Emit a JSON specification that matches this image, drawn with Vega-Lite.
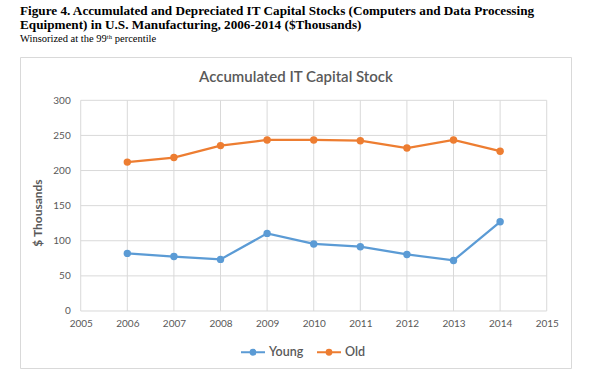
{
  "$schema": "https://vega.github.io/schema/vega-lite/v6.json",
  "width": 551,
  "height": 311,
  "autosize": {"type": "none"},
  "padding": {"left": 20, "top": 57, "right": 29, "bottom": 11},
  "background": "white",
  "title": {
    "text": ["Figure 4. Accumulated and Depreciated IT Capital Stocks (Computers and Data Processing", "Equipment) in U.S. Manufacturing, 2006-2014 ($Thousands)"],
    "subtitle": "Winsorized at the 99ᵗʰ percentile",
    "anchor": "start",
    "frame": "group",
    "font": "Liberation Serif",
    "fontSize": 13.2,
    "fontWeight": "bold",
    "color": "#000000",
    "lineHeight": 14.5,
    "subtitleFont": "Liberation Serif",
    "subtitleFontSize": 10.5,
    "subtitleColor": "#000000",
    "subtitlePadding": 1,
    "offset": 12
  },
  "config": {"view": {"stroke": "#d9d9d9", "strokeWidth": 1}},
  "datasets": {
    "series": [
      {"year": 2006, "group": "Young", "value": 82},
      {"year": 2007, "group": "Young", "value": 77.5},
      {"year": 2008, "group": "Young", "value": 73.5},
      {"year": 2009, "group": "Young", "value": 110.5},
      {"year": 2010, "group": "Young", "value": 95.5},
      {"year": 2011, "group": "Young", "value": 91.5},
      {"year": 2012, "group": "Young", "value": 80.5},
      {"year": 2013, "group": "Young", "value": 72},
      {"year": 2014, "group": "Young", "value": 127},
      {"year": 2006, "group": "Old", "value": 212},
      {"year": 2007, "group": "Old", "value": 218.5},
      {"year": 2008, "group": "Old", "value": 235.5},
      {"year": 2009, "group": "Old", "value": 243.5},
      {"year": 2010, "group": "Old", "value": 243.5},
      {"year": 2011, "group": "Old", "value": 242.5},
      {"year": 2012, "group": "Old", "value": 232},
      {"year": 2013, "group": "Old", "value": 243.5},
      {"year": 2014, "group": "Old", "value": 227.5}
    ],
    "vgrid": [
      {"year": 2005}, {"year": 2006}, {"year": 2007}, {"year": 2008}, {"year": 2009}, {"year": 2010},
      {"year": 2011}, {"year": 2012}, {"year": 2013}, {"year": 2014}, {"year": 2015}
    ],
    "hgrid": [
      {"v": 0}, {"v": 50}, {"v": 100}, {"v": 150}, {"v": 200}, {"v": 250}, {"v": 300}
    ]
  },
  "resolve": {"axis": {"x": "independent", "y": "independent"}},
  "layer": [
    {
      "data": {"name": "hgrid"},
      "mark": {"type": "rule", "color": "#d9d9d9", "strokeWidth": 1},
      "encoding": {
        "y": {
          "field": "v", "type": "quantitative",
          "scale": {"domain": [-81.16, 361.65], "nice": false, "zero": false},
          "axis": {
            "orient": "left", "offset": -60.7, "values": [0, 50, 100, 150, 200, 250, 300],
            "grid": false, "ticks": false, "tickSize": 0, "domain": false,
            "labelFont": "Lato", "labelFontSize": 10, "labelColor": "#595959", "labelPadding": 10.5,
            "title": "$ Thousands", "titleFont": "Lato", "titleFontSize": 12, "titleFontWeight": "bold",
            "titleColor": "#595959", "titlePadding": 8
          }
        },
        "x": {"datum": 2005, "type": "quantitative", "scale": {"domain": [2003.697, 2015.521], "nice": false, "zero": false}, "axis": null},
        "x2": {"datum": 2015}
      }
    },
    {
      "data": {"name": "vgrid"},
      "mark": {"type": "rule", "color": "#d9d9d9", "strokeWidth": 1},
      "encoding": {
        "x": {
          "field": "year", "type": "quantitative",
          "scale": {"domain": [2003.697, 2015.521], "nice": false, "zero": false},
          "axis": {
            "orient": "bottom", "offset": -57, "values": [2005, 2006, 2007, 2008, 2009, 2010, 2011, 2012, 2013, 2014, 2015],
            "format": "d", "grid": false, "ticks": false, "tickSize": 0, "domain": false,
            "labelFont": "Lato", "labelFontSize": 10, "labelColor": "#595959", "labelPadding": 7, "title": null
          }
        },
        "y": {"datum": 0, "type": "quantitative", "scale": {"domain": [-81.16, 361.65], "nice": false, "zero": false}, "axis": null},
        "y2": {"datum": 300}
      }
    },
    {
      "data": {"name": "series"},
      "mark": {"type": "line", "strokeWidth": 2.25, "point": {"filled": true, "size": 55}},
      "encoding": {
        "x": {
          "field": "year", "type": "quantitative",
          "scale": {"domain": [2003.697, 2015.521], "nice": false, "zero": false},
          "axis": {
            "orient": "top", "offset": -27, "labels": false, "ticks": false, "tickSize": 0, "domain": false, "grid": false,
            "title": "Accumulated IT Capital Stock", "titleFont": "Lato", "titleFontSize": 15, "titleFontWeight": 600,
            "titleColor": "#595959", "titlePadding": 0
          }
        },
        "y": {"field": "value", "type": "quantitative", "scale": {"domain": [-81.16, 361.65], "nice": false, "zero": false}, "axis": null},
        "color": {
          "field": "group", "type": "nominal",
          "scale": {"domain": ["Young", "Old"], "range": ["#5B9BD5", "#ED7D31"]},
          "legend": {
            "orient": "none", "legendX": 220, "legendY": 282, "direction": "horizontal", "title": null,
            "symbolType": "M-1,0H1M-0.2,0A0.2,0.2,0,1,0,0.2,0A0.2,0.2,0,1,0,-0.2,0Z",
            "symbolSize": 576, "symbolStrokeWidth": 2,
            "labelFont": "Lato", "labelFontSize": 12.5, "labelFontWeight": 600, "labelColor": "#595959", "labelOffset": 3,
            "columnPadding": 9,
            "encode": {"symbols": {"update": {"fill": {"scale": "color", "field": "value"}, "stroke": {"scale": "color", "field": "value"}}}}
          }
        }
      }
    }
  ]
}
